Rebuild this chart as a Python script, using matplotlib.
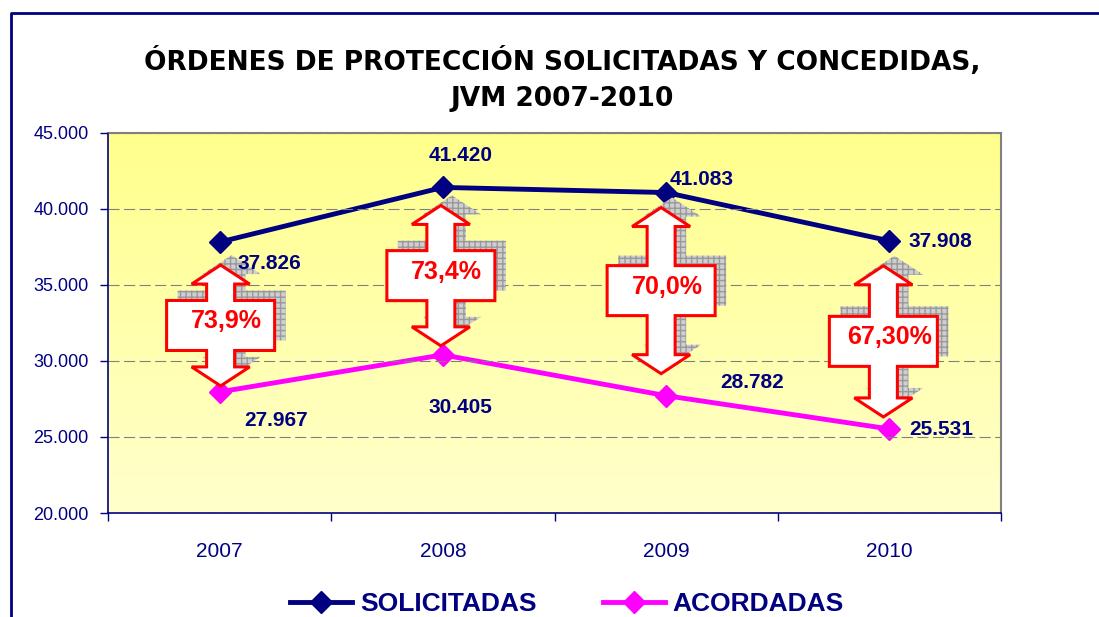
"""
Órdenes de protección solicitadas y concedidas, JVM 2007-2010.
Line chart with double-headed arrow callouts showing the granted share.
"""
import numpy as np
import matplotlib.pyplot as plt
from matplotlib.colors import LinearSegmentedColormap
from matplotlib.lines import Line2D
from matplotlib.patches import Polygon

anios = ["2007", "2008", "2009", "2010"]
solicitadas = [37826, 41420, 41083, 37908]
acordadas = [27967, 30405, 27718, 25531]
etiq_sol = ["37.826", "41.420", "41.083", "37.908"]
etiq_acu = ["27.967", "30.405", "28.782", "25.531"]
porcentajes = ["73,9%", "73,4%", "70,0%", "67,30%"]
y_ticks = [20000, 25000, 30000, 35000, 40000, 45000]

NAVY = "#000080"
MAGENTA = "#FF00FF"
ARIAL = ["Liberation Sans", "DejaVu Sans"]

W, H = 1099, 617
fig = plt.figure(figsize=(W / 100, H / 100), dpi=100)
ax_left, ax_bottom, ax_w, ax_h = 108 / W, 104 / H, 893 / W, 380 / H
ax = fig.add_axes([ax_left, ax_bottom, ax_w, ax_h])

x = np.arange(len(anios))
ymin, ymax = y_ticks[0], y_ticks[-1]

# yellow gradient background of the plot area
grad = np.linspace(0, 1, 256).reshape(-1, 1)
cmap = LinearSegmentedColormap.from_list("amarillo", ["#FFFFCC", "#FFFF8C"])
ax.imshow(grad, extent=(-0.5, 3.5, ymin, ymax), origin="lower", aspect="auto",
          cmap=cmap, zorder=0)

ax.set_xlim(-0.5, 3.5)
ax.set_ylim(ymin, ymax)

ax.yaxis.grid(True, color="#808080", lw=0.8, dashes=(10, 4), zorder=1)
ax.set_axisbelow(False)

ax.plot(x, solicitadas, color=NAVY, lw=3.5, marker="D", ms=11, zorder=2)
ax.plot(x, acordadas, color=MAGENTA, lw=3.5, marker="D", ms=11, zorder=2)

# pixel <-> data helpers
px_x = ax_w * W / 4.0            # pixels per category
px_y = ax_h * H / (ymax - ymin)  # pixels per unit


def to_px(v):
    return (v - ymin) * px_y


def to_dat(p):
    return ymin + p / px_y


# arrow geometry (pixels)
hw, sw, bw, hl, bh = 29, 14, 54, 19, 25
gap_sup = [23, 18, 15, 25]
gap_inf = [6, 9, 22, 12]
desp_x = [1, -2, -5, -6]

for i in range(len(anios)):
    cx = i + desp_x[i] / px_x
    top = to_px(solicitadas[i]) - gap_sup[i]
    bot = to_px(acordadas[i]) + gap_inf[i]
    mid = (top + bot) / 2
    pts = [(0, top), (hw, top - hl), (sw, top - hl), (sw, mid + bh), (bw, mid + bh),
           (bw, mid - bh), (sw, mid - bh), (sw, bot + hl), (hw, bot + hl), (0, bot),
           (-hw, bot + hl), (-sw, bot + hl), (-sw, mid - bh), (-bw, mid - bh),
           (-bw, mid + bh), (-sw, mid + bh), (-sw, top - hl), (-hw, top - hl)]
    sombra = [(cx + (px + 11) / px_x, to_dat(py + 10)) for px, py in pts]
    flecha = [(cx + px / px_x, to_dat(py)) for px, py in pts]
    ax.add_patch(Polygon(sombra, closed=True, facecolor="#cfcfcf", edgecolor="#999999",
                         hatch="+++", lw=0, zorder=3))
    ax.add_patch(Polygon(flecha, closed=True, facecolor="white", edgecolor="#FF0000",
                         lw=2.2, zorder=4))
    ax.text(cx + 6 / px_x, to_dat(mid + 4), porcentajes[i], color="#FF0000",
            fontsize=18, fontweight="bold", family=ARIAL, ha="center", va="center",
            zorder=6)

# data labels
off_sol = [(50, -21), (18, 32), (36, 13), (51, -1)]
off_acu = [(56, -29), (18, -53), (86, 13), (52, -1)]
for i in range(len(anios)):
    ax.annotate(etiq_sol[i], (x[i], solicitadas[i]), xytext=off_sol[i],
                textcoords="offset pixels", ha="center", va="center", color=NAVY,
                fontsize=15, fontweight="bold", family=ARIAL, zorder=7)
    ax.annotate(etiq_acu[i], (x[i], acordadas[i]), xytext=off_acu[i],
                textcoords="offset pixels", ha="center", va="center", color=NAVY,
                fontsize=15, fontweight="bold", family=ARIAL, zorder=7)

# axes styling
ax.set_xticks(x)
ax.set_xticklabels(anios)
ax.set_xticks(np.arange(-0.5, 4.0, 1.0), minor=True)
ax.tick_params(axis="x", which="major", length=0, pad=21, labelsize=15, labelcolor=NAVY)
ax.tick_params(axis="x", which="minor", length=6, color=NAVY, width=1)
ax.set_yticks(y_ticks)
ax.set_yticklabels([f"{v:,}".replace(",", ".") for v in y_ticks])
ax.tick_params(axis="y", length=6, color=NAVY, width=1, pad=8, labelsize=13,
               labelcolor=NAVY)
for lab in ax.get_xticklabels() + ax.get_yticklabels():
    lab.set_family(ARIAL)
for s in ("top", "right"):
    ax.spines[s].set_color("#808080")
    ax.spines[s].set_linewidth(1.5)
for s in ("left", "bottom"):
    ax.spines[s].set_color(NAVY)
    ax.spines[s].set_linewidth(1.2)

# title
fig.text(562 / W, 1 - 62 / H, "ÓRDENES DE PROTECCIÓN SOLICITADAS Y CONCEDIDAS,",
         ha="center", va="center", fontsize=19, fontweight="bold",
         family="DejaVu Sans", color="black")
fig.text(562 / W, 1 - 99 / H, "JVM 2007-2010", ha="center", va="center",
         fontsize=19, fontweight="bold", family="DejaVu Sans", color="black")

# legend
handles = [Line2D([], [], color=NAVY, lw=3.5, marker="D", ms=11),
           Line2D([], [], color=MAGENTA, lw=3.5, marker="D", ms=11)]
fig.legend(handles, ["SOLICITADAS", "ACORDADAS"], ncol=2, loc="center",
           bbox_to_anchor=(567 / W, 1 - 604 / H), frameon=False, handlelength=2.35,
           handletextpad=0.3, columnspacing=2.5,
           prop={"family": ARIAL, "weight": "bold", "size": 19}, labelcolor=NAVY)

# outer chart border
fig.add_artist(Line2D([11 / W, 11 / W, 1], [0, 1 - 13 / H, 1 - 13 / H],
                      transform=fig.transFigure, color=NAVY, lw=2))

fig.savefig("out.png", dpi=100)
